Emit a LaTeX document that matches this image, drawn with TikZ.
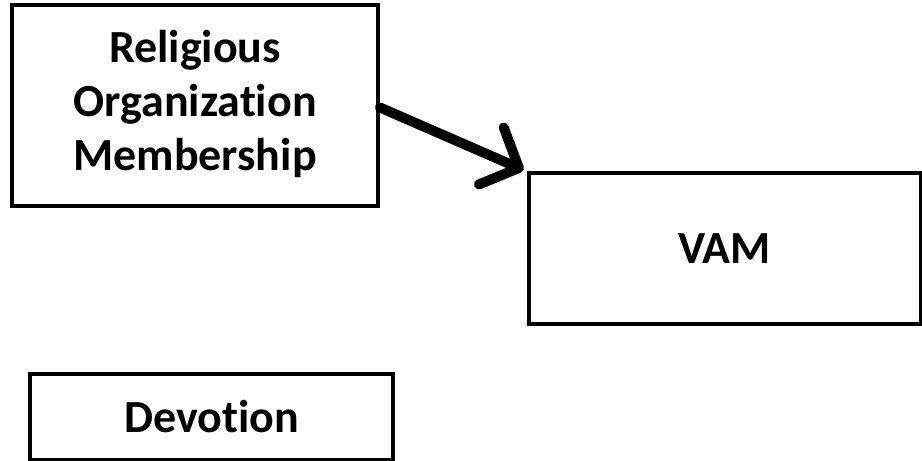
\documentclass[tikz,border=0pt]{standalone}
\usepackage{fontspec}
\setmainfont[Ligatures=NoCommon]{Carlito}
\usetikzlibrary{arrows.meta}
\begin{document}
\begin{tikzpicture}[x=1pt,y=1pt,
  varbox/.style={draw=black, line width=4pt, rectangle, align=center,
    font=\bfseries\fontsize{46}{56}\selectfont, inner sep=0pt},
  path link/.style={line width=10pt, line cap=round,
    -{Straight Barb[length=30pt,width=62pt,line width=10pt,line cap=round,line join=round]}}]
  \useasboundingbox (0,0) rectangle (922,461);
  % latent variables
  \node[varbox, minimum width=366pt, minimum height=201pt] (rom) at (195,355.5)
    {\raisebox{-4pt}{\begin{tabular}{@{}c@{}}Religious\\[-2pt]Organization\\[-2pt]Membership\end{tabular}}};
  \node[varbox, minimum width=392pt, minimum height=151pt] (vam) at (724.5,212.5) {VAM};
  \node[varbox, minimum width=363pt, minimum height=86pt] (dev) at (211.5,44) {Devotion};
  % structural path
  \draw[path link] ([yshift=-2pt]rom.east) -- ([xshift=-3pt,yshift=1pt]vam.north west);
\end{tikzpicture}
\end{document}
